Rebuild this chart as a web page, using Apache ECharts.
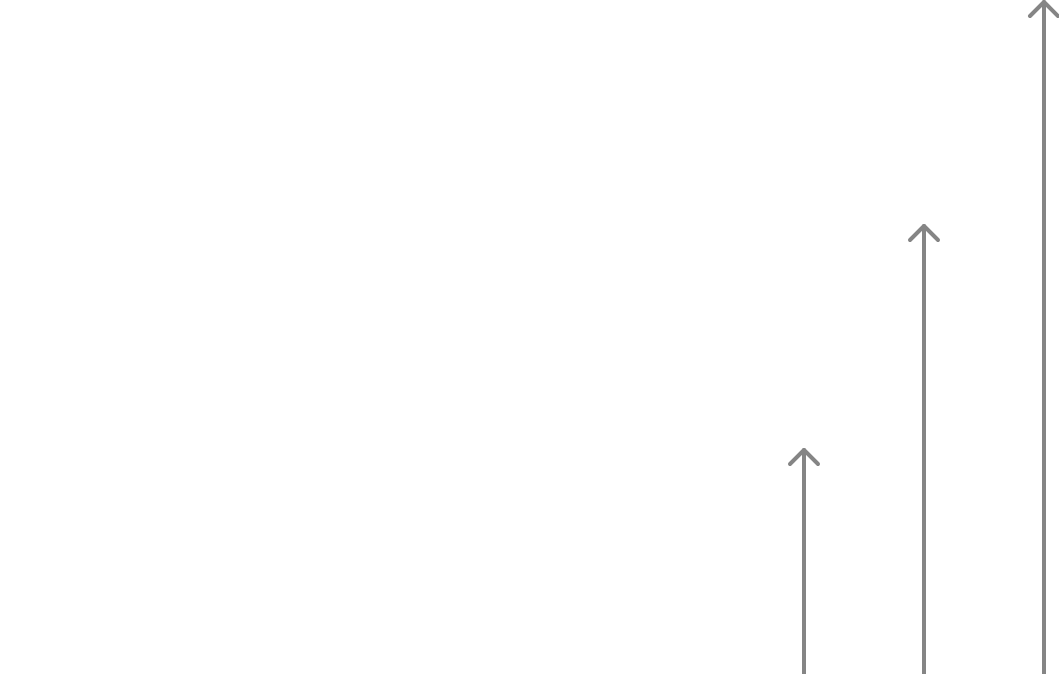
<!DOCTYPE html>
<html>
<head>
<meta charset="utf-8">
<script src="https://cdn.jsdelivr.net/npm/echarts@6/dist/echarts.min.js"></script>
<style type="text/css">
html,body{margin:0;padding:0;background:#fff;}
#chart{width:1059px;height:674px;}
</style>
</head>
<body>
<div id="chart"></div>
<script type="text/javascript">
// arrow positions (x) and lengths (y)
var positions = [1, 2, 3];
var values = [1, 2, 3];

var arrowColor = '#858585';

var chart = echarts.init(document.getElementById('chart'));

function renderArrow(params, api) {
    var base = api.coord([api.value(0), 0]);
    var tip = api.coord([api.value(0), api.value(1)]);
    var head = 14;
    var style = {stroke: arrowColor, lineWidth: 4, lineCap: 'round', lineJoin: 'round', fill: null};
    return {
        type: 'group',
        children: [
            {type: 'line', shape: {x1: base[0], y1: base[1] + 5, x2: tip[0], y2: tip[1]}, style: style},
            {type: 'polyline', shape: {points: [[tip[0] - head, tip[1] + head], tip, [tip[0] + head, tip[1] + head]]}, style: style}
        ]
    };
}

var option = {
    animation: false,
    grid: {left: 0, right: 0, top: 0, bottom: 0},
    xAxis: {type: 'value', min: -5.7, max: 3.125, show: false},
    yAxis: {type: 'value', min: 0, max: 3.0, show: false},
    series: [{
        type: 'custom',
        renderItem: renderArrow,
        clip: false,
        data: positions.map(function (p, i) { return [p, values[i]]; })
    }]
};
option.yAxis.max = 3.0 * 674 / 672;
chart.setOption(option);
</script>
</body>
</html>
